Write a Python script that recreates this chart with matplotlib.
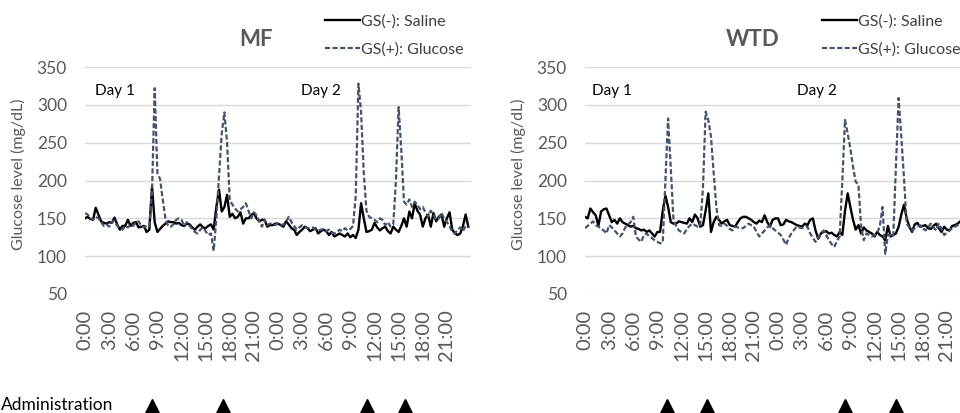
import matplotlib
matplotlib.use("Agg")
import matplotlib.pyplot as plt
from matplotlib import transforms
import numpy as np

plt.rcParams['font.family'] = ['Lato', 'DejaVu Sans']

# glucose readings every 20 min over two days (144 points per series)
mf_saline = [
    150, 152, 149, 148, 164, 155, 146, 144, 143, 145, 144, 151,
    142, 135, 140, 140, 148, 140, 144, 145, 138, 139, 140, 132,
    135, 192, 145, 132, 136, 140, 143, 146, 145, 145, 143, 144,
    141, 140, 143, 142, 138, 135, 139, 142, 138, 137, 140, 142,
    135, 165, 188, 159, 165, 181, 152, 156, 150, 152, 158, 143,
    150, 150, 154, 157, 150, 146, 148, 148, 139, 141, 141, 143,
    143, 141, 139, 146, 142, 137, 135, 128, 132, 135, 139, 137,
    133, 135, 137, 130, 133, 135, 133, 128, 132, 126, 128, 130,
    128, 126, 130, 125, 128, 124, 135, 170, 150, 132, 133, 135,
    144, 138, 134, 137, 139, 133, 130, 139, 135, 132, 140, 150,
    139, 159, 150, 170, 160, 155, 139, 150, 155, 139, 157, 146,
    152, 155, 139, 150, 158, 135, 130, 128, 130, 140, 155, 139,
]
mf_glucose = [
    157, 155, 150, 148, 152, 150, 145, 140, 142, 139, 145, 147,
    140, 138, 135, 140, 138, 142, 140, 145, 146, 140, 138, 140,
    140, 185, 322, 210, 202, 175, 150, 140, 139, 142, 148, 150,
    148, 140, 145, 140, 136, 132, 130, 135, 138, 133, 128, 130,
    107, 150, 205, 262, 290, 250, 174, 168, 163, 159, 162, 165,
    170, 160, 150, 158, 154, 146, 139, 148, 141, 143, 143, 141,
    143, 141, 142, 145, 152, 145, 140, 135, 138, 141, 139, 137,
    137, 138, 136, 134, 135, 136, 133, 135, 131, 130, 132, 135,
    133, 137, 134, 136, 140, 180, 328, 290, 210, 160, 152, 150,
    148, 145, 150, 148, 141, 145, 139, 142, 200, 297, 240, 172,
    168, 175, 165, 172, 168, 162, 165, 158, 152, 160, 155, 148,
    150, 157, 150, 145, 140, 132, 130, 135, 138, 133, 140, 138,
]
wtd_saline = [
    152, 150, 163, 158, 154, 140, 159, 162, 163, 154, 145, 148,
    143, 150, 145, 143, 141, 139, 140, 137, 136, 134, 135, 132,
    134, 130, 126, 132, 132, 160, 180, 165, 145, 143, 143, 146,
    145, 144, 143, 150, 145, 155, 150, 139, 141, 160, 183, 132,
    145, 152, 148, 143, 146, 148, 141, 140, 139, 145, 150, 152,
    152, 150, 148, 145, 143, 147, 145, 154, 145, 139, 148, 150,
    150, 141, 142, 148, 146, 145, 143, 141, 140, 139, 143, 141,
    148, 150, 134, 123, 130, 132, 133, 130, 131, 128, 126, 132,
    128, 160, 183, 165, 148, 135, 141, 130, 138, 134, 132, 130,
    126, 132, 128, 126, 121, 140, 126, 128, 130, 139, 155, 168,
    150, 139, 132, 142, 144, 139, 140, 141, 137, 136, 140, 143,
    137, 132, 139, 135, 134, 140, 141, 143, 146, 148, 146, 150,
]
wtd_glucose = [
    137, 140, 143, 146, 141, 139, 136, 134, 130, 141, 138, 134,
    130, 126, 130, 138, 141, 145, 152, 126, 122, 119, 128, 130,
    126, 124, 121, 119, 117, 118, 200, 282, 217, 148, 140, 134,
    132, 130, 136, 140, 143, 141, 139, 140, 190, 291, 280, 258,
    210, 165, 141, 140, 143, 140, 136, 134, 139, 138, 137, 137,
    140, 143, 141, 139, 132, 126, 130, 134, 138, 141, 137, 134,
    131, 128, 122, 115, 124, 130, 135, 139, 138, 137, 138, 139,
    130, 124, 119, 125, 130, 134, 128, 121, 116, 112, 120, 126,
    200, 280, 262, 242, 218, 198, 195, 139, 121, 130, 128, 126,
    128, 130, 140, 165, 103, 128, 128, 126, 220, 309, 258, 203,
    143, 138, 134, 137, 139, 141, 137, 134, 138, 143, 138, 134,
    143, 136, 128, 131, 134, 137, 139, 141, 143, 140, 138, 141,
]
for s in (mf_saline, mf_glucose, wtd_saline, wtd_glucose):
    assert len(s) == 144, len(s)

hours = np.arange(144) / 3.0
tick_hours = list(range(0, 48, 3))
tick_labels = ['%d:00' % (h % 24) for h in tick_hours]

# administration times (hours from start)
mf_admin = [8.3, 17.2, 35.1, 39.85]
wtd_admin = [10.2, 15.2, 32.3, 38.7]

GRAY = '#595959'
DASH = '#44546a'

fig = plt.figure(figsize=(9.6, 4.13), dpi=100)
W, H = 960.0, 413.0

def make_axes(left, title, title_x, saline, glucose, admin, day_pos, legend_x):
    ax = fig.add_axes([left / W, 119 / H, 386 / W, 227 / H])
    ax.plot(hours, saline, color='black', lw=1.7, label='GS(-): Saline')
    ax.plot(hours, glucose, color=DASH, lw=1.6, dashes=(2.3, 1.1),
            label='GS(+): Glucose')
    ax.set_xlim(0, 48)
    ax.set_ylim(50, 350)
    ax.set_yticks(range(50, 351, 50))
    ax.set_xticks(tick_hours)
    ax.set_xticklabels(tick_labels, rotation=90, va='top')
    ax.grid(axis='y', color='#d9d9d9', lw=1)
    ax.set_axisbelow(True)
    for sp in ax.spines.values():
        sp.set_visible(False)
    ax.tick_params(axis='y', length=0, pad=13, labelsize=12.5, labelcolor=GRAY)
    ax.tick_params(axis='x', length=0, pad=11, labelsize=14.5, labelcolor=GRAY)
    ax.text(day_pos[0], 318, 'Day 1', fontsize=11, va='center', ha='left')
    ax.text(day_pos[1], 318, 'Day 2', fontsize=11, va='center', ha='left')
    fig.text(title_x / W, 1 - 40 / H, title, fontsize=16, fontweight='bold',
             color=GRAY, ha='center', va='center')
    ax.legend(loc='upper left', bbox_to_anchor=(legend_x / W, 1 - 14 / H),
              bbox_transform=fig.transFigure, frameon=False, fontsize=11.5,
              handlelength=2.2, handletextpad=0.08, borderpad=0,
              borderaxespad=0, labelspacing=0.85, labelcolor='#404040')
    tr = transforms.blended_transform_factory(ax.transData, fig.transFigure)
    ax.plot(admin, [7 / H] * len(admin), ls='none', marker='^', color='black',
            markersize=10, transform=tr, clip_on=False)
    fig.text((left - 67) / W, 1 - 174 / H, 'Glucose level (mg/dL)', rotation=90,
             fontsize=11.5, color=GRAY, ha='center', va='center')
    return ax

make_axes(85, 'MF', 256, mf_saline, mf_glucose, mf_admin, (1.25, 26.8), 325)
make_axes(585, 'WTD', 753, wtd_saline, wtd_glucose, wtd_admin, (0.9, 26.4), 822)

fig.text(1 / W, 1 - 405 / H, 'Administration', fontsize=12.5, color='black',
         ha='left', va='center')

fig.savefig('out.png', dpi=100)
